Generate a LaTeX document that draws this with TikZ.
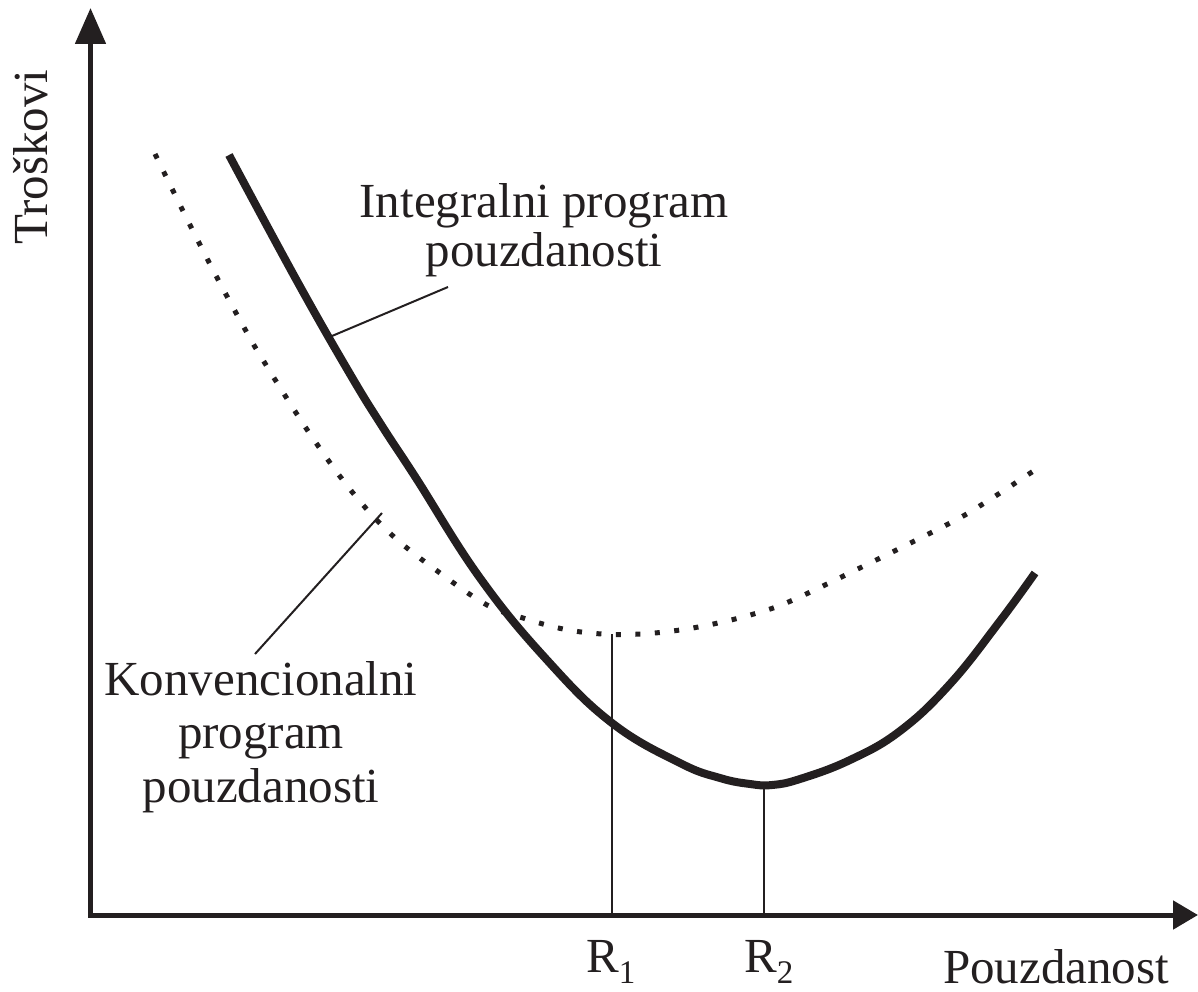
\documentclass[tikz,border=0pt]{standalone}
\usepackage{fontspec}
\setmainfont{Liberation Serif}
\usetikzlibrary{arrows.meta}
\definecolor{ink}{RGB}{35,31,32}
\newcommand{\sub}[1]{\raisebox{-11pt}{\fontsize{33}{33}\selectfont #1}}
\begin{document}
\begin{tikzpicture}[x=1pt,y=-1pt,
  axis/.style={line width=5pt,ink,line join=miter},
  costcurve/.style={line width=8pt,ink,line cap=butt},
  dotcurve/.style={line width=5pt,ink,dash pattern=on 5pt off 14.5pt},
  thin/.style={line width=2pt,ink},
  lbl/.style={text=ink,inner sep=0pt,font=\fontsize{49}{52}\selectfont}]
\useasboundingbox (0,0) rectangle (1198,992);

% axes
\coordinate (ytop) at (90.5,8);
\coordinate (O) at (90.5,915);
\coordinate (xend) at (1198,915);
\draw[axis,{Triangle[length=36pt,width=30pt]}-{Triangle[length=25pt,width=28pt]}]
  (ytop) -- (O) -- (xend);

% conventional reliability programme (dotted)
\draw[dotcurve] plot[smooth,tension=0.6] coordinates {
  (155,154) (190,225) (222,287) (255,347) (274,378) (312,437) (353,493)
  (393,536) (440,573) (487,605) (523,618) (563,629) (602,634) (641,634)
  (680,630) (718,623) (757,613) (793,600) (870,563) (952,522) (986,502)
  (1035,470)};

% integral reliability programme (solid)
\draw[costcurve] plot[smooth,tension=0.7] coordinates {
  (229,155) (297,281) (350,374) (382,426) (416,478) (480,578) (547,660)
  (612,723) (680,763) (720,778) (750,784) (772,785) (800,779) (850,760)
  (900,731) (950,684) (1000,621) (1035,573)};

% optimum markers
\coordinate (r1top) at (611.5,634);
\coordinate (r1bot) at (611.5,915);
\coordinate (r2top) at (763.5,786);
\coordinate (r2bot) at (763.5,915);
\draw[thin] (r1top) -- (r1bot);
\draw[thin] (r2top) -- (r2bot);

% leader lines
\coordinate (intA) at (332,336);
\coordinate (intB) at (448,287);
\coordinate (konA) at (255,654);
\coordinate (konB) at (382,513);
\draw[thin] (intA) -- (intB);
\draw[thin] (konA) -- (konB);

% labels (a multi-line node's base is the baseline of its last line)
\node[lbl,rotate=90,anchor=base] (ylab) at (47,157) {Troškovi};
\node[lbl,anchor=base west] (xlab) at (943,983) {Pouzdanost};
\node[lbl,anchor=base west] (r1) at (586,972) {R\sub{1}};
\node[lbl,anchor=base west] (r2) at (744,972) {R\sub{2}};
\node[lbl,align=center,anchor=base,font=\fontsize{49}{49}\selectfont] (intlab) at (544,266)
  {Integralni program\\pouzdanosti};
\node[lbl,align=center,anchor=base,font=\fontsize{49}{53.5}\selectfont] (konlab) at (261,802)
  {Konvencionalni\\program\\pouzdanosti};
\end{tikzpicture}
\end{document}
